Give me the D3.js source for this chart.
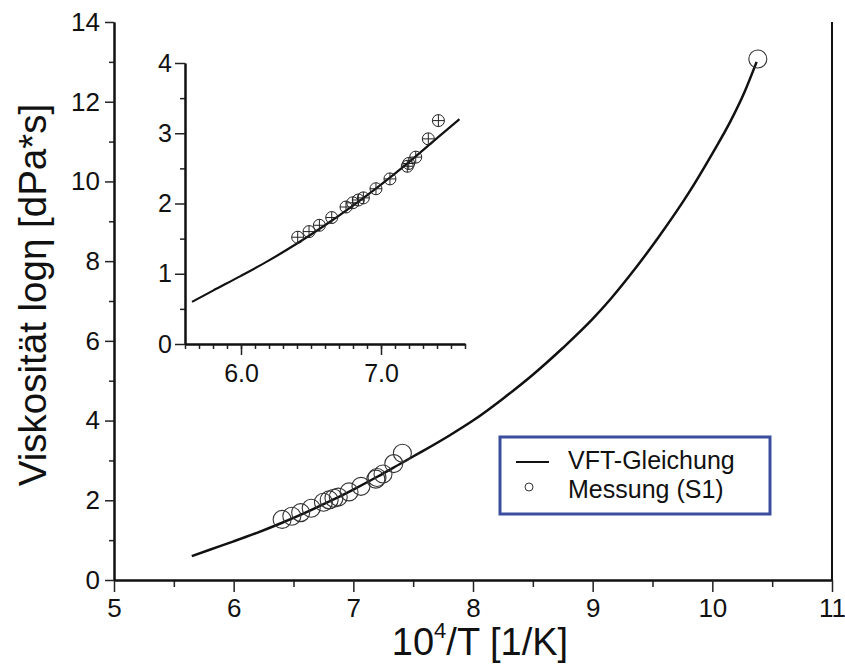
<!DOCTYPE html>
<html>
<head>
<meta charset="utf-8">
<script src="https://cdn.jsdelivr.net/npm/d3@7"></script>
<style>
  body { margin: 0; background: #fff; }
  svg { font-family: "Liberation Sans", Arial, sans-serif; }
</style>
</head>
<body>
<div id="chart"></div>
<script>
// VFT curve
const curveX = [5.65, 5.8, 6.0, 6.2, 6.4, 6.6, 6.8, 7.0, 7.2, 7.4, 7.56, 7.8, 8.0, 8.25, 8.5, 8.75, 9.0, 9.15, 9.3, 9.55, 9.8, 10.0, 10.15, 10.27, 10.37];
const curveY = [0.60, 0.76, 0.97, 1.19, 1.43, 1.69, 1.97, 2.27, 2.59, 2.93, 3.2, 3.62, 4.0, 4.55, 5.15, 5.82, 6.55, 7.05, 7.6, 8.6, 9.7, 10.7, 11.5, 12.25, 13.0];

// measured points (S1)
const measX = [6.405, 6.486, 6.56, 6.648, 6.75, 6.798, 6.838, 6.874, 6.964, 7.064, 7.188, 7.198, 7.248, 7.338, 7.41, 10.38];
const measY = [1.52, 1.60, 1.69, 1.80, 1.95, 2.01, 2.05, 2.08, 2.21, 2.35, 2.53, 2.57, 2.66, 2.92, 3.18, 13.07];

// tick values
const xMajor = [5, 6, 7, 8, 9, 10, 11];
const xMinor = [5.5, 6.5, 7.5, 8.5, 9.5, 10.5];
const yMajor = [0, 2, 4, 6, 8, 10, 12, 14];
const yMinor = [1, 3, 5, 7, 9, 11, 13];
const insetXMajor = [6.0, 7.0];
const insetXMinor = d3.range(56, 77).map(d => d / 10);
const insetYMajor = [0, 1, 2, 3, 4];
const insetYMinor = [0.5, 1.5, 2.5, 3.5];

const legendLabels = ["VFT-Gleichung", "Messung (S1)"];

const W = 845, H = 671;
const curve = curveX.map((d, i) => ({ x: d, y: curveY[i] }));
const meas = measX.map((d, i) => ({ x: d, y: measY[i] }));

const svg = d3.select("#chart").append("svg")
  .attr("width", W).attr("height", H);

// main scales
const x = d3.scaleLinear().domain([5, 11]).range([114, 832]);
const y = d3.scaleLinear().domain([0, 14]).range([580, 22]);

function styleAxis(g, size) {
  g.select(".domain").attr("stroke", "#111").attr("stroke-width", 2);
  g.selectAll(".tick line").attr("stroke", "#222").attr("stroke-width", 1.5);
  g.selectAll(".tick text").attr("fill", "#111").attr("font-size", size)
    .attr("font-family", "'Liberation Sans', Arial, sans-serif");
}

// bottom axis
svg.append("g").attr("transform", "translate(0,580)")
  .call(d3.axisBottom(x).tickValues(xMinor).tickSize(7).tickSizeOuter(0).tickFormat(""))
  .call(g => styleAxis(g, 26));
svg.append("g").attr("transform", "translate(0,580)")
  .call(d3.axisBottom(x).tickValues(xMajor).tickSize(12).tickSizeOuter(0).tickPadding(7).tickFormat(d3.format("d")))
  .call(g => styleAxis(g, 26));

// left axis
svg.append("g").attr("transform", "translate(114,0)")
  .call(d3.axisLeft(y).tickValues(yMinor).tickSize(5).tickSizeOuter(0).tickFormat(""))
  .call(g => styleAxis(g, 26));
svg.append("g").attr("transform", "translate(114,0)")
  .call(d3.axisLeft(y).tickValues(yMajor).tickSize(9).tickSizeOuter(0).tickPadding(5).tickFormat(d3.format("d")))
  .call(g => styleAxis(g, 26));

// right border line
svg.append("line")
  .attr("x1", x(11)).attr("x2", x(11))
  .attr("y1", y(14)).attr("y2", y(0))
  .attr("stroke", "#111").attr("stroke-width", 2);

// axis titles
svg.append("text")
  .attr("x", 480).attr("y", 655)
  .attr("text-anchor", "middle")
  .attr("font-size", 38).attr("fill", "#111")
  .call(t => {
    t.append("tspan").text("10");
    t.append("tspan").attr("font-size", 22).attr("dy", -17).text("4");
    t.append("tspan").attr("dy", 17).text("/T [1/K]");
  });

svg.append("text")
  .attr("transform", "translate(46,295) rotate(-90)")
  .attr("text-anchor", "middle")
  .attr("font-size", 38.5).attr("fill", "#111")
  .text("Viskosität logη [dPa*s]");

// main curve
const line = d3.line().x(d => x(d.x)).y(d => y(d.y)).curve(d3.curveMonotoneX);
svg.append("path").datum(curve)
  .attr("fill", "none").attr("stroke", "#111").attr("stroke-width", 2.5)
  .attr("d", line);

// main points
svg.append("g").selectAll("circle").data(meas).join("circle")
  .attr("cx", d => x(d.x)).attr("cy", d => y(d.y)).attr("r", 9)
  .attr("fill", "none").attr("stroke", "#333").attr("stroke-width", 1.1);

// ---- inset ----
const ix = d3.scaleLinear().domain([5.6, 7.6]).range([185, 465]);
const iy = d3.scaleLinear().domain([0, 4]).range([344, 63]);
const inset = svg.append("g");

inset.append("g").attr("transform", "translate(0,344)")
  .call(d3.axisBottom(ix).tickValues(insetXMinor).tickSize(5).tickSizeOuter(0).tickFormat(""))
  .call(g => styleAxis(g, 25));
inset.append("g").attr("transform", "translate(0,344)")
  .call(d3.axisBottom(ix).tickValues(insetXMajor).tickSize(11).tickSizeOuter(0).tickPadding(9).tickFormat(d3.format(".1f")))
  .call(g => styleAxis(g, 25));
inset.append("g").attr("transform", "translate(185,0)")
  .call(d3.axisLeft(iy).tickValues(insetYMinor).tickSize(5).tickSizeOuter(0).tickFormat(""))
  .call(g => styleAxis(g, 25));
inset.append("g").attr("transform", "translate(185,0)")
  .call(d3.axisLeft(iy).tickValues(insetYMajor).tickSize(10).tickSizeOuter(0).tickPadding(3).tickFormat(d3.format("d")))
  .call(g => styleAxis(g, 25));

const iline = d3.line().x(d => ix(d.x)).y(d => iy(d.y)).curve(d3.curveMonotoneX);
inset.append("path").datum(curve.filter(d => d.x <= 7.56))
  .attr("fill", "none").attr("stroke", "#111").attr("stroke-width", 2.2)
  .attr("d", iline);

const ipts = inset.append("g").selectAll("g").data(meas.filter(d => d.x <= 7.6)).join("g")
  .attr("transform", d => `translate(${ix(d.x)},${iy(d.y)})`);
ipts.append("circle").attr("r", 6)
  .attr("fill", "none").attr("stroke", "#222").attr("stroke-width", 1);
ipts.append("path").attr("d", "M-6,0H6M0,-6V6")
  .attr("stroke", "#222").attr("stroke-width", 1);

// ---- legend ----
const lg = svg.append("g");
lg.append("rect")
  .attr("x", 500).attr("y", 437).attr("width", 270).attr("height", 77)
  .attr("fill", "#fff").attr("stroke", "#3a4d9e").attr("stroke-width", 3);
lg.append("line")
  .attr("x1", 516).attr("x2", 549).attr("y1", 462).attr("y2", 462)
  .attr("stroke", "#111").attr("stroke-width", 2.2);
lg.append("circle")
  .attr("cx", 529).attr("cy", 487).attr("r", 4)
  .attr("fill", "none").attr("stroke", "#333").attr("stroke-width", 1);
lg.selectAll("text.lbl").data(legendLabels).join("text")
  .attr("class", "lbl")
  .attr("x", 568).attr("y", (d, i) => 469 + i * 29)
  .attr("font-size", 25).attr("fill", "#111")
  .text(d => d);
</script>
</body>
</html>
